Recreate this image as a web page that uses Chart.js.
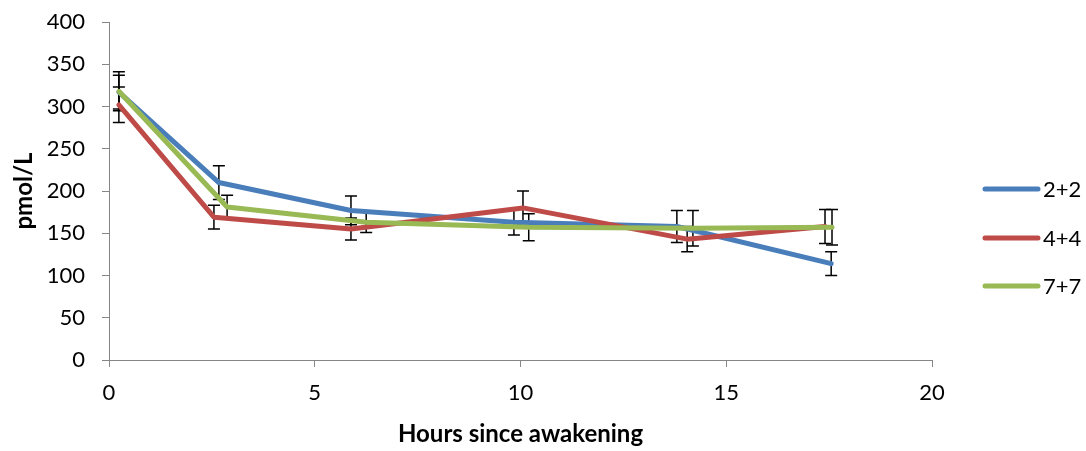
<!DOCTYPE html>
<html>
<head>
<meta charset="utf-8">
<script src="https://cdn.jsdelivr.net/npm/chart.js@4"></script>
<style>
  body { margin: 0; background: #fff; }
</style>
</head>
<body>
<canvas id="myChart" width="1086" height="451"></canvas>
<script>
let seriesNames = ["2+2", "4+4", "7+7"];
let seriesColors = ["#4A7EBB", "#BE4B48", "#98B954"];

let hours22 = [0.24, 2.67, 5.88, 9.84, 13.8, 17.55];
let pmol22 = [317, 210, 177, 163, 158, 114];
let err22 = [20, 20, 17, 15, 19, 14];

let hours44 = [0.24, 2.55, 5.88, 10.06, 14.05, 17.4];
let pmol44 = [302, 169, 155, 180, 143, 158];
let err44 = [21, 14, 13, 20, 15, 20];

let hours77 = [0.24, 2.87, 6.25, 10.2, 14.19, 17.57];
let pmol77 = [318, 181, 163, 157, 156, 157];
let err77 = [23, 14, 12, 16, 21, 21];

let xTicks = [0, 5, 10, 15, 20];

let fontName = "Lato, 'Noto Sans', sans-serif";
let ctx = document.getElementById("myChart");

function points(xs, ys) {
  return xs.map((x, i) => ({ x: x, y: ys[i] }));
}

let errors = [err22, err44, err77];

// error bars drawn under the lines
let errorBars = {
  id: "errorBars",
  beforeDatasetsDraw(chart) {
    let c = chart.ctx;
    let xs = chart.scales.x, ys = chart.scales.y;
    c.save();
    c.strokeStyle = "#000";
    c.lineWidth = 1.5;
    chart.data.datasets.forEach((ds, d) => {
      ds.data.forEach((p, i) => {
        let px = xs.getPixelForValue(p.x);
        let top = ys.getPixelForValue(p.y + errors[d][i]);
        let bot = ys.getPixelForValue(p.y - errors[d][i]);
        c.beginPath();
        c.moveTo(px, top); c.lineTo(px, bot);
        c.moveTo(px - 6, top); c.lineTo(px + 6, top);
        c.moveTo(px - 6, bot); c.lineTo(px + 6, bot);
        c.stroke();
      });
    });
    c.restore();
  }
};

// Excel-like legend on the right
let sideLegend = {
  id: "sideLegend",
  afterDraw(chart) {
    let c = chart.ctx;
    let rows = [189, 238, 286];
    c.save();
    c.font = "22px " + fontName;
    c.textBaseline = "middle";
    c.textAlign = "left";
    seriesNames.forEach((name, i) => {
      c.strokeStyle = seriesColors[i];
      c.lineWidth = 5;
      c.lineCap = "round";
      c.beginPath();
      c.moveTo(985, rows[i]);
      c.lineTo(1038, rows[i]);
      c.stroke();
      c.fillStyle = "#000";
      c.fillText(name, 1043, rows[i] + 1);
    });
    c.restore();
  }
};

let myChart = new Chart(ctx, {
  type: "line",
  data: {
    datasets: [
      { label: seriesNames[0], data: points(hours22, pmol22), borderColor: seriesColors[0], order: 2 },
      { label: seriesNames[1], data: points(hours44, pmol44), borderColor: seriesColors[1], order: 1 },
      { label: seriesNames[2], data: points(hours77, pmol77), borderColor: seriesColors[2], order: 0 }
    ].map(ds => Object.assign(ds, {
      borderWidth: 5,
      pointRadius: 0,
      tension: 0,
      fill: false,
      borderJoinStyle: "round",
      borderCapStyle: "round"
    }))
  },
  options: {
    responsive: false,
    animation: false,
    devicePixelRatio: 1,
    layout: { padding: { left: 0, right: 154, top: 22, bottom: 0 } },
    plugins: { legend: { display: false }, tooltip: { enabled: false } },
    scales: {
      x: {
        type: "linear",
        min: 0,
        max: 20,
        afterBuildTicks: s => { s.ticks = xTicks.map(v => ({ value: v })); },
        afterFit: s => { s.height = 91; s.paddingLeft = 0; s.paddingRight = 0; },
        ticks: { color: "#000", font: { family: fontName, size: 22 }, padding: 13 },
        grid: { display: true, drawOnChartArea: false, drawTicks: true, tickLength: 7, color: "#868686" },
        border: { color: "#868686", width: 1 },
        title: {
          display: true,
          text: "Hours since awakening",
          color: "#000",
          font: { family: fontName, size: 24, weight: "bold" },
          padding: { top: 6, bottom: 2 }
        }
      },
      y: {
        min: 0,
        max: 400,
        ticks: { stepSize: 50, color: "#000", font: { family: fontName, size: 22 }, padding: 17 },
        afterFit: s => { s.width = 109; s.paddingTop = 0; s.paddingBottom = 0; },
        grid: { display: true, drawOnChartArea: false, drawTicks: true, tickLength: 7, color: "#868686" },
        border: { color: "#868686", width: 1 },
        title: {
          display: true,
          text: "pmol/L",
          color: "#000",
          font: { family: fontName, size: 24, weight: "bold" },
          padding: { top: 10, bottom: 4 }
        }
      }
    }
  },
  plugins: [errorBars, sideLegend]
});
</script>
</body>
</html>
